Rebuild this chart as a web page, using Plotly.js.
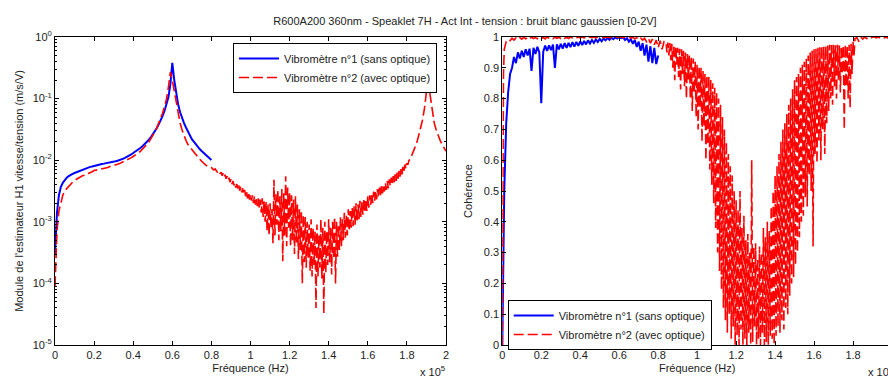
<!DOCTYPE html>
<html>
<head>
<meta charset="utf-8">
<script src="https://cdn.plot.ly/plotly-3.0.1.min.js"></script>
<style>
html,body{margin:0;padding:0;overflow:hidden;background:#fff;}
#chart{width:900px;height:381px;}
</style>
</head>
<body>
<div id="chart"></div>
<script>
// Frequency in kHz (axis labelled in Hz x 10^5); finer steps in the noisy band
const freqKHz = [0,0.3,0.6,
1,2,3,4,5,6,7,8,9,10,11,12,13,14,15,16,17,18,19,20,
21,22,23,24,25,26,27,28,29,30,31,32,33,34,35,36,37,38,39,40,
41,42,43,44,45,46,47,48,49,50,51,52,53,54,55,56,57,58,59,60,
61,62,63,64,65,66,67,68,69,70,71,72,73,74,75,76,77,78,79,80,
81,82,83,
84,84.5,85,85.5,86,86.5,87,87.5,88,88.5,89,89.5,90,90.5,91,91.5,92,92.5,93,93.5,
94,94.5,95,95.5,96,96.5,97,97.5,98,98.5,99,99.5,100,100.5,101,101.5,102,102.5,103,103.5,
104,104.5,105,105.5,106,106.5,107,107.5,108,108.5,109,109.5,110,110.5,111,111.5,112,112.5,113,113.5,
114,114.5,115,115.5,116,116.5,117,117.5,118,118.5,119,119.5,120,120.5,121,121.5,122,122.5,123,123.5,
124,124.5,125,125.5,126,126.5,127,127.5,128,128.5,129,129.5,130,130.5,131,131.5,132,132.5,133,133.5,
134,134.5,135,135.5,136,136.5,137,137.5,138,138.5,139,139.5,140,140.5,141,141.5,142,142.5,143,143.5,
144,144.5,145,145.5,146,146.5,147,147.5,148,148.5,149,149.5,150,150.5,151,151.5,152,152.5,153,153.5,
154,154.5,155,155.5,156,156.5,157,157.5,158,158.5,159,159.5,160,160.5,161,161.5,162,162.5,163,163.5,
164,164.5,165,165.5,166,166.5,167,167.5,168,168.5,169,169.5,170,170.5,171,171.5,172,172.5,173,173.5,
174,174.5,175,175.5,176,176.5,177,177.5,178,178.5,179,179.5,180,180.5,181,
182,183,184,185,186,187,188,189,190,191,192,193,194,195,196,197,198,199,200];

// Vibrometer 1 (blue) is measured up to 80 kHz
const freqKHzVib1 = freqKHz.slice(0, 83);

// |H1| (m/s/V) – vibrometer 1
const h1Vib1 = [3e-4,6e-4,9e-4,
1.4e-3,2.7e-3,3.7e-3,4.3e-3,4.8e-3,5.2e-3,5.5e-3,5.8e-3,6.0e-3,6.2e-3,
6.4e-3,6.6e-3,6.8e-3,7.0e-3,7.2e-3,7.4e-3,7.6e-3,7.8e-3,7.9e-3,8.1e-3,
8.2e-3,8.4e-3,8.5e-3,8.7e-3,8.8e-3,8.9e-3,9.0e-3,9.1e-3,9.2e-3,9.4e-3,
9.6e-3,9.8e-3,1.0e-2,1.03e-2,1.06e-2,1.1e-2,1.14e-2,1.18e-2,1.24e-2,1.31e-2,
1.37e-2,1.44e-2,1.52e-2,1.61e-2,1.72e-2,1.84e-2,1.98e-2,2.15e-2,2.35e-2,2.6e-2,
2.9e-2,3.3e-2,3.8e-2,4.4e-2,5.2e-2,6.3e-2,7.9e-2,0.105,0.17,0.38,
0.2,0.115,0.08,0.06,0.048,0.04,0.034,0.029,0.025,0.022,
0.02,0.018,0.0165,0.0152,0.0141,0.0131,0.0122,0.0114,0.0107,0.0101];

// |H1| (m/s/V) – vibrometer 2
const h1Vib2 = [9e-5,2.2e-4,4.5e-4,
7e-4,1.5e-3,2.1e-3,2.7e-3,3.2e-3,3.5e-3,3.8e-3,4.1e-3,4.4e-3,4.7e-3,
4.9e-3,5.2e-3,5.3e-3,5.6e-3,5.7e-3,6.0e-3,6.1e-3,6.4e-3,6.5e-3,6.8e-3,
6.9e-3,7.1e-3,7.1e-3,7.4e-3,7.4e-3,7.6e-3,7.6e-3,7.9e-3,7.9e-3,8.2e-3,
8.3e-3,8.6e-3,8.8e-3,9.1e-3,9.4e-3,9.8e-3,1.02e-2,1.06e-2,1.10e-2,1.15e-2,
1.20e-2,1.27e-2,1.34e-2,1.43e-2,1.53e-2,1.65e-2,1.80e-2,1.98e-2,2.2e-2,2.5e-2,
2.85e-2,3.3e-2,3.9e-2,4.7e-2,5.8e-2,7.4e-2,9.8e-2,0.15,0.27,0.2,
0.13,0.08,0.055,0.04,0.031,0.025,0.021,0.018,0.0163,0.0148,
0.0135,0.0123,0.0113,0.0104,0.0096,0.0089,0.0084,0.0080,0.0077,0.0076,
7.0e-3,7.2e-3,6.4e-3,
6.8e-3,6.0e-3,6.4e-3,5.6e-3,6.1e-3,5.3e-3,5.8e-3,5.0e-3,5.5e-3,4.7e-3,5.2e-3,4.4e-3,4.9e-3,4.1e-3,4.6e-3,3.9e-3,4.3e-3,3.6e-3,4.1e-3,3.4e-3,
3.9e-3,3.2e-3,3.7e-3,3.0e-3,3.5e-3,2.8e-3,3.3e-3,2.6e-3,3.1e-3,2.4e-3,3.0e-3,2.3e-3,2.8e-3,2.2e-3,2.7e-3,2.0e-3,2.6e-3,1.9e-3,2.5e-3,1.8e-3,
2.4e-3,1.7e-3,2.3e-3,1.4e-3,2.4e-3,1.2e-3,2.2e-3,1.0e-3,2.1e-3,7e-4,1.9e-3,6e-4,2.0e-3,8e-4,1.6e-3,4.5e-4,4.8e-3,6e-4,2.8e-3,9e-4,
3.3e-3,5e-4,2.6e-3,7e-4,3.4e-3,2.3e-4,2.9e-3,6e-4,5.5e-3,4e-4,3.6e-3,8e-4,3.0e-3,4e-4,2.7e-3,5e-4,2.3e-3,3e-4,2.6e-3,4.5e-4,
1.9e-3,2.5e-4,1.6e-3,3.5e-4,1.5e-3,1.0e-4,1.3e-3,2.2e-4,1.2e-3,1.8e-4,1.0e-3,2.6e-4,9e-4,1.6e-4,1.1e-3,1.3e-4,8e-4,2.0e-4,7e-4,4e-5,
9e-4,1.3e-4,6e-4,1.8e-4,1.1e-3,1.2e-4,8e-4,3.2e-5,1.0e-3,1.5e-4,7e-4,2.0e-4,1.1e-3,2.2e-4,8e-4,1.4e-4,1.0e-3,2.5e-4,1.2e-3,1.0e-4,
1.0e-3,2.7e-4,9e-4,3.5e-4,1.2e-3,4e-4,1.1e-3,5e-4,1.4e-3,5.5e-4,1.3e-3,6e-4,1.6e-3,7e-4,1.5e-3,8e-4,1.7e-3,8.5e-4,1.8e-3,9e-4,
2.0e-3,1.0e-3,1.9e-3,1.1e-3,2.2e-3,1.2e-3,2.1e-3,1.3e-3,2.4e-3,1.4e-3,2.3e-3,1.5e-3,2.6e-3,1.7e-3,2.7e-3,1.9e-3,2.9e-3,2.0e-3,3.1e-3,2.2e-3,
3.2e-3,2.3e-3,3.4e-3,2.5e-3,3.6e-3,2.7e-3,3.8e-3,2.9e-3,4.0e-3,3.1e-3,4.3e-3,3.3e-3,4.6e-3,3.5e-3,4.9e-3,3.8e-3,5.2e-3,4.0e-3,5.5e-3,4.3e-3,
5.9e-3,4.6e-3,6.3e-3,5.0e-3,6.7e-3,5.4e-3,7.2e-3,5.9e-3,7.8e-3,6.5e-3,8.5e-3,7.3e-3,9.0e-3,8.4e-3,9.8e-3,
1.1e-2,1.3e-2,1.5e-2,1.9e-2,2.5e-2,3.3e-2,4.5e-2,7.0e-2,0.13,0.175,0.1,0.058,0.04,0.031,0.025,0.021,0.018,0.016,0.014];

// Coherence – vibrometer 1
const cohVib1 = [0,0.12,0.3,
0.5,0.72,0.82,0.88,0.9,0.935,0.915,0.95,0.93,0.955,
0.935,0.96,0.94,0.962,0.89,0.965,0.945,0.968,0.95,0.785,
0.952,0.972,0.955,0.973,0.957,0.975,0.9,0.976,0.96,0.978,
0.962,0.98,0.965,0.981,0.967,0.983,0.969,0.984,0.971,0.986,
0.974,0.987,0.976,0.989,0.979,0.99,0.981,0.992,0.984,0.994,
0.986,0.995,0.989,0.997,0.991,0.998,0.993,0.999,0.995,1.0,
0.996,0.999,0.99,0.996,0.985,0.993,0.978,0.99,0.968,0.985,
0.955,0.98,0.94,0.975,0.92,0.97,0.915,0.965,0.912,0.94];

// Coherence – vibrometer 2
const cohVib2 = [0,0.55,0.88,
0.96,0.985,0.992,0.988,0.996,0.99,0.997,0.992,0.998,0.993,
0.999,0.994,0.998,0.993,1.0,0.995,0.998,0.994,1.0,0.995,
0.999,0.994,1.0,0.996,0.998,0.994,1.0,0.996,0.999,0.995,
1.0,0.996,0.999,0.995,1.0,0.997,0.999,0.996,1.0,0.997,
1.0,0.997,0.999,0.996,1.0,0.998,1.0,0.997,1.0,0.998,
1.0,0.998,1.0,0.999,1.0,0.998,1.0,0.999,1.0,0.999,
1.0,0.998,1.0,0.997,0.999,0.996,0.999,0.994,0.998,0.992,
0.997,0.99,0.996,0.985,0.995,0.98,0.993,0.975,0.99,0.965,
0.988,0.96,0.985,
0.985,0.95,0.982,0.94,0.98,0.925,0.978,0.9,0.975,0.86,0.97,0.91,0.965,0.87,0.962,0.83,0.96,0.88,0.955,0.84,
0.95,0.8,0.945,0.86,0.94,0.8,0.935,0.76,0.93,0.82,0.92,0.74,0.91,0.7,0.905,0.77,0.9,0.66,0.89,0.71,
0.88,0.6,0.875,0.65,0.87,0.57,0.86,0.52,0.85,0.46,0.835,0.38,0.82,0.3,0.8,0.24,0.78,0.18,0.74,0.12,
0.7,0.08,0.66,0.04,0.62,0.1,0.58,0.02,0.55,0.06,0.5,0.0,0.47,0.03,0.44,0.0,0.5,0.05,0.38,0.0,
0.42,0.02,0.34,0.0,0.36,0.04,0.3,0.0,0.6,0.01,0.32,0.06,0.33,0.0,0.28,0.02,0.32,0.0,0.3,0.04,
0.38,0.0,0.35,0.01,0.4,0.0,0.37,0.03,0.45,0.02,0.5,0.0,0.55,0.03,0.58,0.06,0.62,0.04,0.66,0.08,
0.7,0.05,0.72,0.12,0.75,0.1,0.78,0.16,0.8,0.2,0.83,0.22,0.86,0.26,0.87,0.3,0.88,0.35,0.9,0.4,
0.91,0.42,0.92,0.48,0.93,0.45,0.94,0.55,0.95,0.5,0.955,0.32,0.96,0.62,0.962,0.59,0.965,0.66,0.967,0.6,
0.97,0.7,0.968,0.62,0.97,0.72,0.972,0.76,0.975,0.8,0.974,0.78,0.975,0.84,0.973,0.8,0.975,0.86,0.972,0.82,
0.97,0.88,0.973,0.7,0.975,0.84,0.972,0.8,0.975,0.77,0.978,0.88,0.985,0.94,0.995,
0.998,0.985,1.0,0.993,1.0,0.995,1.0,0.996,1.0,1.0,0.997,1.0,0.996,0.999,0.997,1.0,0.996,0.999,0.997];

const xTickVals = [0,20,40,60,80,100,120,140,160,180,200];
const xTickText = ['0','0.2','0.4','0.6','0.8','1','1.2','1.4','1.6','1.8','2'];
const yLogTickVals = [1e-5,1e-4,1e-3,1e-2,1e-1,1];
const yLogTickText = ['10<sup>-5</sup>','10<sup>-4</sup>','10<sup>-3</sup>','10<sup>-2</sup>','10<sup>-1</sup>','10<sup>0</sup>'];
const yCohTickVals = [0,0.1,0.2,0.3,0.4,0.5,0.6,0.7,0.8,0.9,1];
const yCohTickText = ['0','0.1','0.2','0.3','0.4','0.5','0.6','0.7','0.8','0.9','1'];
const seriesNames = ['Vibromètre n°1 (sans optique)','Vibromètre n°2 (avec optique)'];

const FONT = 'Liberation Sans, Arial, sans-serif';
const BLUE = '#0000ff', RED = '#ff0000';

// minor tick positions for the log axis (2..9 per decade)
const minorLog = [];
for (let e = -5; e < 0; e++) for (let m = 2; m <= 9; m++) minorLog.push(m * Math.pow(10, e));

const traces = [
  {x: freqKHzVib1, y: h1Vib1, xaxis:'x', yaxis:'y', type:'scatter', mode:'lines',
   name: seriesNames[0], legend:'legend', line:{color:BLUE, width:2}},
  {x: freqKHz, y: h1Vib2, xaxis:'x', yaxis:'y', type:'scatter', mode:'lines',
   name: seriesNames[1], legend:'legend', line:{color:RED, width:1.6, dash:'10px,4px'}},
  {x: freqKHzVib1, y: cohVib1, xaxis:'x2', yaxis:'y2', type:'scatter', mode:'lines',
   name: seriesNames[0], legend:'legend2', line:{color:BLUE, width:2}},
  {x: freqKHz, y: cohVib2, xaxis:'x2', yaxis:'y2', type:'scatter', mode:'lines',
   name: seriesNames[1], legend:'legend2', line:{color:RED, width:1.6, dash:'10px,4px'}}
];

const axisCommon = {
  showline:true, linecolor:'#000', linewidth:1, mirror:'ticks',
  ticks:'inside', ticklen:4, tickcolor:'#000', showgrid:false, zeroline:false,
  tickfont:{family:FONT, size:11, color:'#222'}
};

const W = 900, H = 381, ML = 55, MR = 8, MT = 37, MB = 36;
const PW = W - ML - MR, PH = H - MT - MB;

const layout = {
  width: W, height: H,
  margin:{l:ML, r:MR, t:MT, b:MB, pad:0},
  paper_bgcolor:'#fff', plot_bgcolor:'#fff',
  font:{family:FONT, size:11, color:'#222'},
  title:{text:'R600A200 360nm - Speaklet 7H - Act Int - tension : bruit blanc gaussien [0-2V]',
         font:{family:FONT, size:11, color:'#222'}, x:465/W, xanchor:'center', y:1-21/H, yanchor:'middle'},
  xaxis: Object.assign({}, axisCommon, {domain:[0, (446-ML)/PW], range:[0,200], anchor:'y',
    tickmode:'array', tickvals:xTickVals, ticktext:xTickText,
    title:{text:'Fréquence (Hz)', font:{family:FONT, size:11, color:'#222'}, standoff:4}}),
  yaxis: Object.assign({}, axisCommon, {type:'log', range:[-5,0], anchor:'x',
    tickmode:'array', tickvals:yLogTickVals, ticktext:yLogTickText,
    minor:{tickvals:minorLog, ticks:'inside', ticklen:2, tickcolor:'#000', showgrid:false},
    title:{text:"Module de l'estimateur H1 vitesse/tension (m/s/V)", font:{family:FONT, size:11, color:'#222'}, standoff:6}}),
  xaxis2: Object.assign({}, axisCommon, {domain:[(502.3-ML)/PW, 1], range:[0,200], anchor:'y2',
    tickmode:'array', tickvals:xTickVals, ticktext:xTickText,
    title:{text:'Fréquence (Hz)', font:{family:FONT, size:11, color:'#222'}, standoff:4}}),
  yaxis2: Object.assign({}, axisCommon, {range:[0,1], anchor:'x2',
    tickmode:'array', tickvals:yCohTickVals, ticktext:yCohTickText,
    title:{text:'Cohérence', font:{family:FONT, size:11, color:'#222'}, standoff:8}}),
  legend:{x:(233-ML)/PW, xanchor:'left', y:(H-MB-43)/PH, yanchor:'top',
    bgcolor:'#fff', bordercolor:'#000', borderwidth:1, font:{family:FONT, size:11, color:'#222'},
    tracegroupgap:0, itemwidth:40},
  legend2:{x:(507.7-ML)/PW, xanchor:'left', y:(H-MB-300)/PH, yanchor:'top',
    bgcolor:'#fff', bordercolor:'#000', borderwidth:1, font:{family:FONT, size:11, color:'#222'},
    tracegroupgap:0, itemwidth:40},
  annotations:[
    {text:'x 10<sup>5</sup>', xref:'paper', yref:'paper', x:(418-ML)/PW, xanchor:'left',
     y:(H-MB-380)/PH, yanchor:'bottom', showarrow:false, font:{family:FONT, size:11, color:'#222'}},
    {text:'x 10<sup>5</sup>', xref:'paper', yref:'paper', x:(866-ML)/PW, xanchor:'left',
     y:(H-MB-380)/PH, yanchor:'bottom', showarrow:false, font:{family:FONT, size:11, color:'#222'}}
  ],
  showlegend:true
};

Plotly.newPlot('chart', traces, layout, {displayModeBar:false, staticPlot:true});
</script>
</body>
</html>
